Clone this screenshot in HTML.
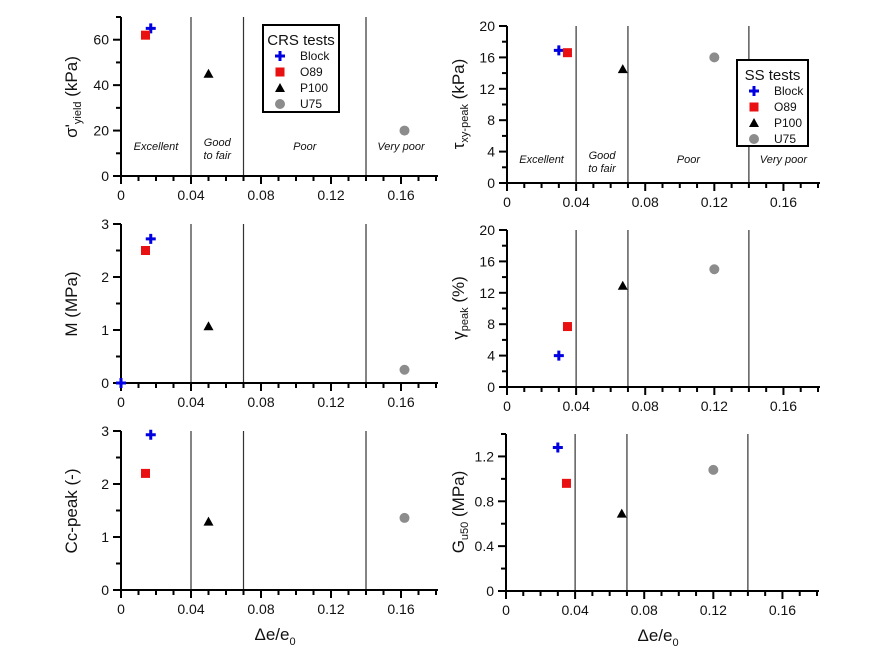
<!DOCTYPE html>
<html><head><meta charset="utf-8"><style>
body{margin:0;background:#fff;}
svg{display:block;font-family:"Liberation Sans",Arial,sans-serif;}
</style></head><body>
<svg id="c" width="870" height="668" viewBox="0 0 870 668" xmlns="http://www.w3.org/2000/svg"></svg>
<script>
const xTicks = [0, 0.04, 0.08, 0.12, 0.16];
const xTickLabels = ["0", "0.04", "0.08", "0.12", "0.16"];
const zoneBounds = [0.04, 0.07, 0.14];
const seriesNames = ["Block", "O89", "P100", "U75"];
// left column x values (CRS)
const crsX = [0.017, 0.014, 0.050, 0.162];
const sigmaYield = [65, 62, 45, 20];
const mValues = [2.72, 2.5, 1.07, 0.25];
const ccPeak = [2.93, 2.2, 1.29, 1.36];
// right column x values (SS)
const ssX = [0.030, 0.035, 0.067, 0.120];
const tauPeak = [16.9, 16.6, 14.5, 16.0];
const gammaPeak = [4.0, 7.7, 12.9, 15.0];
const gu50 = [1.28, 0.96, 0.69, 1.08];
const extraBlockM = [0, 0];

const NS = "http://www.w3.org/2000/svg";
const svg = document.getElementById('c');
function el(tag, attrs, parent, text){
  const e = document.createElementNS(NS, tag);
  for (const k in attrs) e.setAttribute(k, attrs[k]);
  if (text !== undefined) e.textContent = text;
  (parent || svg).appendChild(e);
  return e;
}

const panels = [
  {id:'sigma-yield', x0:121, x1:436, y0:176, y1:17, ymax:70, yt:[0,20,40,60], xs:crsX, ys:sigmaYield, zones:true, zy:150},
  {id:'m-modulus', x0:121, x1:436, y0:383, y1:224, ymax:3, yt:[0,1,2,3], xs:crsX, ys:mValues, extra:true},
  {id:'cc-peak', x0:121, x1:436, y0:590, y1:431, ymax:3, yt:[0,1,2,3], xs:crsX, ys:ccPeak, xtitle:true},
  {id:'tau-peak', x0:507, x1:818, y0:183, y1:26, ymax:20, yt:[0,4,8,12,16,20], xs:ssX, ys:tauPeak, zones:true, zy:163},
  {id:'gamma-peak', x0:507, x1:818, y0:387, y1:230, ymax:20, yt:[0,4,8,12,16,20], xs:ssX, ys:gammaPeak},
  {id:'gu50', x0:506, x1:817, y0:591, y1:434, ymax:1.4, yt:[0,0.4,0.8,1.2], ytl:["0","0.4","0.8","1.2"], xs:ssX, ys:gu50, xtitle:true}
];

function marker(g, i, px, py){
  let m;
  if (i===0){
    m = el('path',{d:`M${px-5} ${py}H${px+5}M${px} ${py-5}V${py+5}`,stroke:'#0000e0','stroke-width':3},g);
  } else if (i===1){
    m = el('rect',{x:px-4.5,y:py-4.5,width:9,height:9,fill:'#e81010'},g);
  } else if (i===2){
    m = el('path',{d:`M${px} ${py-5}L${px+5} ${py+4}L${px-5} ${py+4}Z`,fill:'#000'},g);
  } else {
    m = el('circle',{cx:px,cy:py,r:5,fill:'#8c8c8c'},g);
  }
  return m;
}

panels.forEach(p=>{
  const g = el('g',{});
  
  
  const sx = v => p.x0 + (v/0.18)*(p.x1-p.x0);
  const sy = v => p.y0 - (v/p.ymax)*(p.y0-p.y1);
  zoneBounds.forEach(z=>{
    const l = el('line',{x1:sx(z),x2:sx(z),y1:p.y1,y2:p.y0,stroke:'#333','stroke-width':1.2},g);
    
    
  });
  el('line',{x1:p.x0-8,x2:p.x1+2,y1:p.y0,y2:p.y0,stroke:'#000','stroke-width':2},g);
  el('line',{x1:p.x0,x2:p.x0,y1:p.y1,y2:p.y0+8,stroke:'#000','stroke-width':2},g);
  for (let k=1;k<=18;k++){
    const v=k*0.01, major = (k%4===0);
    el('line',{x1:sx(v),x2:sx(v),y1:p.y0,y2:p.y0+(major?8:5),stroke:'#000','stroke-width':2},g);
  }
  xTicks.forEach((v,i)=>{
    const t = el('text',{x:sx(v),y:p.y0+24,'font-size':14,'text-anchor':'middle',fill:'#111'},g,xTickLabels[i]);
    
    
  });
  const step = p.yt[1]-p.yt[0];
  p.yt.forEach((v,i)=>{
    el('line',{x1:p.x0-8,x2:p.x0,y1:sy(v),y2:sy(v),stroke:'#000','stroke-width':2},g);
    const t = el('text',{x:p.x0-12,y:sy(v)+5,'font-size':14,'text-anchor':'end',fill:'#111'},g,p.ytl?p.ytl[i]:String(v));
    
    
    const mv = v+step/2;
    if (mv<=p.ymax+1e-9) el('line',{x1:p.x0-5,x2:p.x0,y1:sy(mv),y2:sy(mv),stroke:'#000','stroke-width':2},g);
  });
  p.ys.forEach((v,i)=>{
    const m = marker(g,i,sx(p.xs[i]),sy(v));
    
    
  });
  if (p.extra){
    const m = marker(g,0,sx(extraBlockM[0]),sy(extraBlockM[1]));
    
    
  }
  if (p.xtitle){
    const cx=(p.x0+p.x1)/2;
    const t = el('text',{x:cx-24,y:p.y0+50,'font-size':17,fill:'#111'},g);
    
    
    t.innerHTML = 'Δe/e<tspan font-size="11" dy="5">0</tspan>';
  }
  if (p.zones){
    const zs = {'font-size':11,'font-style':'italic','text-anchor':'middle',fill:'#111'};
    const xs = [[0,0.04],[0.04,0.07],[0.07,0.14],[0.14,0.18]];
    const labs=[['Excellent'],['Good','to fair'],['Poor'],['Very poor']];
    labs.forEach((L,i)=>{
      const cx = (sx(xs[i][0])+sx(xs[i][1]))/2;
      L.forEach((s,j)=>{
        const y = L.length===1 ? p.zy : p.zy-4+j*13;
        const t = el('text',Object.assign({x:cx,y:y},zs),g,s);
        
        
      });
    });
  }
});

function ytitle(x,y,html,name){
  const t = el('text',{x:0,y:0,'font-size':17,'text-anchor':'middle',fill:'#111',transform:`translate(${x},${y}) rotate(-90)`});
  t.innerHTML = html;
  
  
}
ytitle(77,97,'σ\'<tspan font-size="11" dy="4">yield</tspan><tspan dy="-4"> (kPa)</tspan>','y-title-sigma-yield');
ytitle(77,304,'M (MPa)','y-title-m');
ytitle(77,511,'Cc-peak (-)','y-title-cc-peak');
ytitle(464,104,'τ<tspan font-size="11" dy="4">xy-peak</tspan><tspan dy="-4"> (kPa)</tspan>','y-title-tau-peak');
ytitle(464,308,'γ<tspan font-size="11" dy="4">peak</tspan><tspan dy="-4"> (%)</tspan>','y-title-gamma-peak');
ytitle(464,512,'G<tspan font-size="11" dy="4">u50</tspan><tspan dy="-4"> (MPa)</tspan>','y-title-gu50');

function legend(x,y,w,h,title,name){
  const g = el('g',{});
  
  
  el('rect',{x:x,y:y,width:w,height:h,fill:'#fff',stroke:'#000','stroke-width':2},g);
  el('text',{x:x+w/2,y:y+20,'font-size':15,'text-anchor':'middle',fill:'#111'},g,title);
  seriesNames.forEach((s,i)=>{
    const yy = y+31+i*16;
    const m = marker(g,i,x+17,yy);
    
    
    const t = el('text',{x:x+37,y:yy+4,'font-size':12,fill:'#111'},g,s);
    
    
  });
}
legend(263,25,76,87,'CRS tests','legend-crs');
legend(737,60,71,86,'SS tests','legend-ss');
</script>
</body></html>
